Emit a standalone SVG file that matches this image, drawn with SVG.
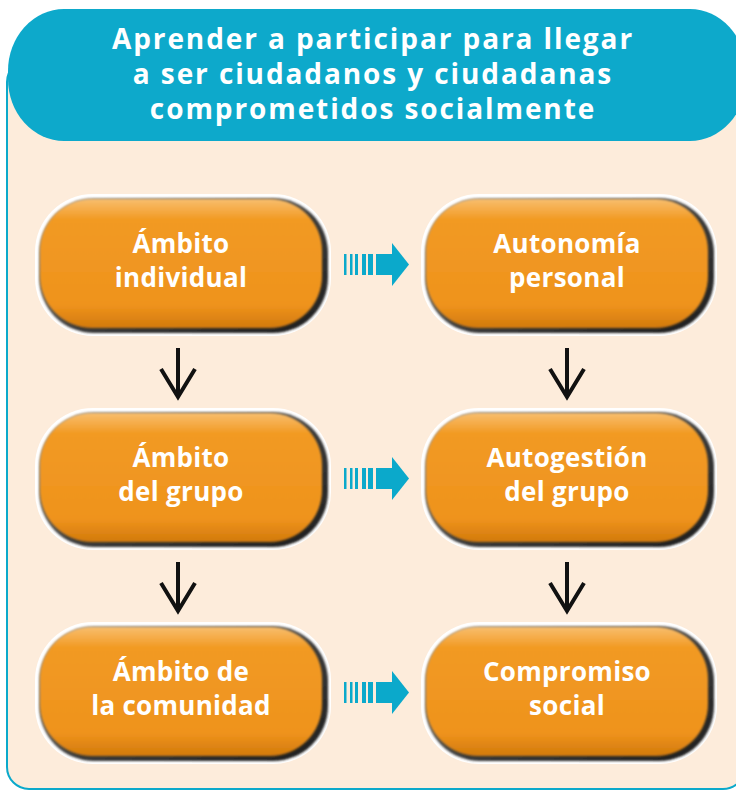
<svg xmlns="http://www.w3.org/2000/svg" width="736" height="791" viewBox="0 0 736 791">
<defs>
<linearGradient id="og" x1="0" y1="0" x2="0" y2="1">
<stop offset="0" stop-color="#F8BE6E"/>
<stop offset="0.16" stop-color="#F29A24"/>
<stop offset="0.82" stop-color="#EF931D"/>
<stop offset="1" stop-color="#D27A0C"/>
</linearGradient>
<linearGradient id="sg" x1="0" y1="0" x2="1" y2="1">
<stop offset="0" stop-color="#b0b0b0"/>
<stop offset="0.55" stop-color="#3a3a3a"/>
<stop offset="1" stop-color="#1e1e1e"/>
</linearGradient>
<filter id="blur" x="-10%" y="-10%" width="120%" height="120%"><feGaussianBlur stdDeviation="1.3"/></filter>
<filter id="blur2" x="-10%" y="-10%" width="120%" height="120%"><feGaussianBlur stdDeviation="0.8"/></filter>
<g id="pill">
<rect x="0" y="0" width="296" height="142" rx="58" fill="#fff"/>
<rect x="4" y="4" width="289" height="135" rx="55" fill="url(#sg)" filter="url(#blur2)"/>
<rect x="5" y="5" width="282" height="129" rx="52" fill="url(#og)" filter="url(#blur)"/>
</g>
<g id="barrow">
<rect x="344" y="254" width="2.5" height="21"/>
<rect x="350" y="254" width="2.5" height="21"/>
<rect x="355" y="254" width="3" height="21"/>
<rect x="362" y="254" width="4" height="21"/>
<rect x="368" y="254" width="5" height="21"/>
<rect x="376" y="254" width="17" height="21"/>
<polygon points="392,243 409,264.5 392,286"/>
</g>
<g id="darrow">
<line x1="0" y1="0" x2="0" y2="48"/>
<polyline points="-17,21 0,49 17,21"/>
</g>
</defs>
<style>
.t{font-family:"Open Sans","Noto Sans","DejaVu Sans",sans-serif;font-weight:bold;fill:#fff;text-anchor:middle}
.h{font-size:28px;letter-spacing:1.9px}
.n{font-size:26px;letter-spacing:0.3px}
.ba{fill:#0BA9CB}
.da{stroke:#111;stroke-width:4;fill:none}
</style>
<rect x="0" y="0" width="736" height="791" fill="#fff"/>
<g id="panel">
<rect x="7" y="60" width="738" height="729" rx="22" fill="#FDECDB" stroke="#0BA9CB" stroke-width="2"/>
</g>
<g id="header">
<rect x="8" y="9" width="738" height="132" rx="56" ry="62" fill="#0DA9CB"/>
<text class="t h" x="373" y="49">Aprender a participar para llegar</text>
<text class="t h" x="373" y="84">a ser ciudadanos y ciudadanas</text>
<text class="t h" x="373" y="119">comprometidos socialmente</text>
</g>
<g id="n1">
<use href="#pill" x="35" y="194"/>
<text class="t n" x="181" y="253">Ámbito</text>
<text class="t n" x="181" y="287">individual</text>
</g>
<g id="n2">
<use href="#pill" x="421" y="194"/>
<text class="t n" x="567" y="253">Autonomía</text>
<text class="t n" x="567" y="287">personal</text>
</g>
<g id="n3">
<use href="#pill" x="35" y="408"/>
<text class="t n" x="181" y="467">Ámbito</text>
<text class="t n" x="181" y="501">del grupo</text>
</g>
<g id="n4">
<use href="#pill" x="421" y="408"/>
<text class="t n" x="567" y="467">Autogestión</text>
<text class="t n" x="567" y="501">del grupo</text>
</g>
<g id="n5">
<use href="#pill" x="35" y="622"/>
<text class="t n" x="181" y="681">Ámbito de</text>
<text class="t n" x="181" y="715">la comunidad</text>
</g>
<g id="n6">
<use href="#pill" x="421" y="622"/>
<text class="t n" x="567" y="681">Compromiso</text>
<text class="t n" x="567" y="715">social</text>
</g>
<g id="connectors">
<use href="#barrow" class="ba" x="0" y="0"/>
<use href="#barrow" class="ba" x="0" y="214"/>
<use href="#barrow" class="ba" x="0" y="428"/>
<use href="#darrow" class="da" x="178" y="348"/>
<use href="#darrow" class="da" x="567" y="348"/>
<use href="#darrow" class="da" x="178" y="562"/>
<use href="#darrow" class="da" x="567" y="562"/>
</g>
</svg>
